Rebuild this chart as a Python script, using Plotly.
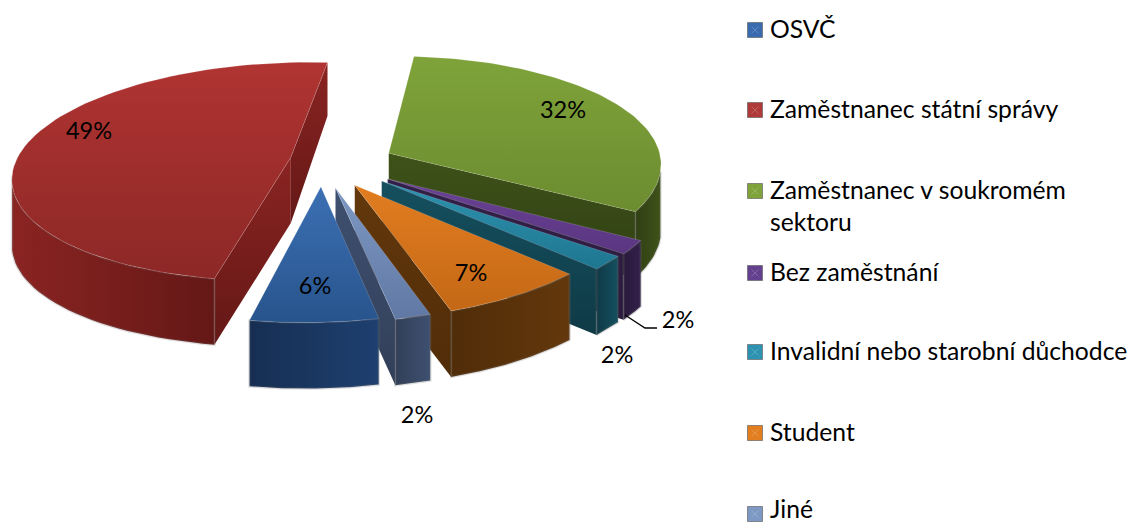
import numpy as np
import plotly.graph_objects as go

categories = ["OSVČ", "Zaměstnanec státní správy", "Zaměstnanec v soukromém", "Bez zaměstnání",
              "Invalidní nebo starobní důchodce", "Student", "Jiné"]
values = [6.4, 48.5, 32.1, 1.9, 1.9, 7.4, 1.8]
top_light = ["#3C70B4", "#B03432", "#7FA33A", "#6A4296", "#2E93B0", "#E27D20", "#7E98C4"]
top_dark = ["#28548C", "#8C2826", "#6C8C30", "#5A3680", "#1E7690", "#C46816", "#6078A4"]
wall_light = ["#1E4070", "#8A2422", "#3E5219", "#33204A", "#15505F", "#63380C", "#3E5070"]
wall_dark = ["#162E52", "#641816", "#303F14", "#2A1A3C", "#0F3A46", "#502C08", "#323F58"]
legend_colors = ["#3A6BAE", "#B03A38", "#7FA33A", "#64418F", "#2E93B0", "#E27D20", "#7E98C4"]

value_labels = ["6%", "49%", "32%", "2%", "2%", "7%", "2%"]
label_x = [315, 89, 563, 678, 617, 471, 417]
label_y = [288, 133, 112, 322, 357, 275, 417]
legend_y = [30, 110, 191, 273, 352, 433, 514]
text_y = [32, 112, 193, 275, 354, 435, 512]

nudge_x = [-18, 2, 2, 5, 3, -12, -17]
nudge_y = [1, -4, -1, 3, 3, 3, 3]
y_scale = [1, 0.965, 1, 1, 1, 1, 1]

CX, CY, R, KR, P, SHEAR, E, H = 340, 164, 274, 112, 0.13, 0.05, 0.19, 66
START = 166.8


def project(xw, yw):
    s = 1 / (1 + P * yw)
    return CX + R * s * (xw + SHEAR * yw), CY - KR * s * yw, s


def depth(s):
    return H * np.minimum(1, s ** 1.7)


def add_poly(fig, xs, ys, c0, c1, kind, line=None):
    fig.add_trace(go.Scatter(
        x=list(xs) + [xs[0]], y=list(ys) + [ys[0]], mode="lines", line=line or dict(width=0),
        fill="toself", fillcolor=c0, fillgradient=dict(type=kind, colorscale=[[0, c0], [1, c1]]),
        hoverinfo="skip", showlegend=False))


fig = go.Figure()
slices = []
a = START
total = sum(values)
for i, v in enumerate(values):
    span = 360 * v / total
    slices.append((i, a, a + span))
    a += span
slices.sort(key=lambda t: -np.cos(np.radians((t[1] + t[2]) / 2)))

for i, a0, a1 in slices:
    mid = np.radians((a0 + a1) / 2)
    ox, oy = E * np.sin(mid), E * np.cos(mid)
    th = np.radians(np.linspace(a0, a1, 80))
    wx, wy = ox + np.sin(th), oy + np.cos(th)
    ax, ay, sa = project(wx, wy)
    tx, ty, ts = project(np.array([ox]), np.array([oy]))
    tx, ty, ts = tx[0] + nudge_x[i], ty[0] + nudge_y[i], ts[0]
    ax, ay = ax + nudge_x[i], ty + (ay + nudge_y[i] - ty) * y_scale[i]
    cam_y = -1 / P
    # radial walls
    for end, ang in ((0, np.radians(a0)), (-1, np.radians(a1))):
        n = (-np.cos(ang), np.sin(ang)) if end == 0 else (np.cos(ang), -np.sin(ang))
        if n[0] * (0 - ox) + n[1] * (cam_y - oy) > 0:
            xs = [tx, ax[end], ax[end], tx]
            ys = [ty, ay[end], ay[end] + depth(sa[end]), ty + depth(ts)]
            add_poly(fig, xs, ys, wall_dark[i], wall_light[i], "vertical")
    # outer wall
    face = (np.sin(th) * (0 - wx) + np.cos(th) * (cam_y - wy)) > 0
    if face.any():
        fx, fy, fs = ax[face], ay[face], sa[face]
        xs = list(fx) + list(fx[::-1])
        ys = list(fy) + list((fy + depth(fs))[::-1])
        c0, c1 = (wall_dark[i], wall_light[i]) if np.sin(mid) > 0 else (wall_light[i], wall_dark[i])
        add_poly(fig, xs, ys, c0, c1, "horizontal", line=dict(color="rgba(110,110,110,0.22)", width=2.5))
    # top
    add_poly(fig, [tx] + list(ax), [ty] + list(ay), top_dark[i], top_light[i], "vertical",
             line=dict(color="rgba(255,255,255,0.16)", width=1))

# leader line of the purple slice's label
fig.add_trace(go.Scatter(x=[625, 645, 657], y=[315, 328, 328], mode="lines",
                         line=dict(color="black", width=1.3), hoverinfo="skip", showlegend=False))
FONT = "Lato"
fig.add_trace(go.Scatter(x=label_x, y=label_y, text=value_labels, mode="text", textposition="middle center",
                         textfont=dict(family=FONT, size=23.5, color="black"), hoverinfo="skip", showlegend=False))
fig.add_trace(go.Scatter(x=[755] * 7, y=legend_y, mode="markers",
                         marker=dict(symbol="square", size=15, color=legend_colors, line=dict(color="#666", width=0.7)),
                         hoverinfo="skip", showlegend=False))
fig.add_trace(go.Scatter(x=[755] * 7, y=legend_y, mode="markers",
                         marker=dict(symbol="x-thin", size=7, line=dict(color="rgba(255,255,255,0.2)", width=1)),
                         hoverinfo="skip", showlegend=False))
fig.add_trace(go.Scatter(x=[770] * 7, y=text_y, mode="text", text=categories, textposition="middle right",
                         textfont=dict(family=FONT, size=24.7, color="black"), hoverinfo="skip", showlegend=False))
fig.add_trace(go.Scatter(x=[770], y=[225], mode="text", text=["sektoru"], textposition="middle right",
                         textfont=dict(family=FONT, size=24.7, color="black"), hoverinfo="skip", showlegend=False))

fig.update_layout(width=1133, height=524, margin=dict(l=0, r=0, t=0, b=0), plot_bgcolor="white", paper_bgcolor="white",
                  xaxis=dict(visible=False, range=[0, 1133], fixedrange=True),
                  yaxis=dict(visible=False, range=[524, 0], fixedrange=True))
fig.write_html("out.html", config=dict(displayModeBar=False),
               post_script="document.body.style.margin='0';document.documentElement.style.overflow='hidden';")
